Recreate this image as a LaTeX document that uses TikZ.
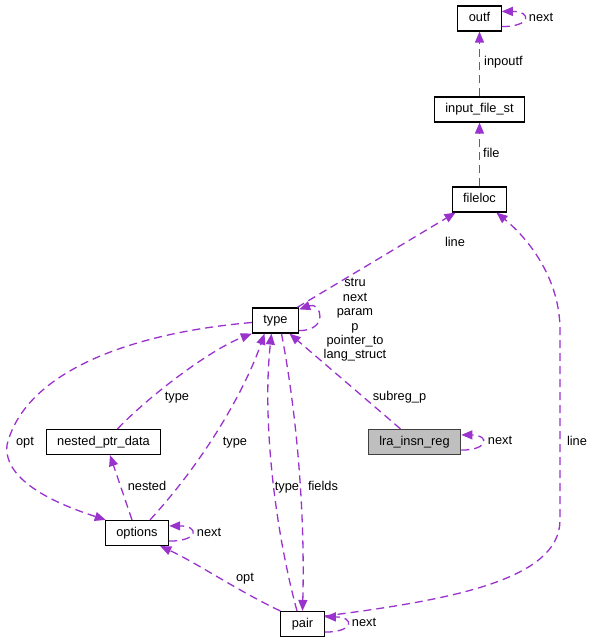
\documentclass[tikz,border=0pt]{standalone}
\usepackage{fontspec}
\setmainfont{Liberation Sans}
\usepackage{xcolor}
\usetikzlibrary{arrows.meta}
\definecolor{edge-purple}{HTML}{9A32CD}
\definecolor{box-gray}{HTML}{BFBFBF}
\tikzset{
    class-box/.style = {draw=black, fill=white, line width=1.2pt, rectangle, minimum height=25pt, inner xsep=11pt, inner ysep=0pt, text height=9.2pt, text depth=2.7pt, font=\fontsize{12.8}{14.4}\selectfont},
    class-box-current/.style = {class-box, draw=black!75, fill=box-gray},
    member-edge/.style = {draw=edge-purple, line width=1.3pt, dash pattern=on 8pt off 5pt, -{Triangle[length=11pt, width=9pt]}},
    member-label/.style = {inner sep=0pt, text height=9.2pt, text depth=2.7pt, font=\fontsize{12.8}{14.4}\selectfont},
    member-label-stack/.style = {inner sep=0pt, align=center, font=\fontsize{12.8}{14.4}\selectfont},
}

\begin{document}
\begin{tikzpicture}[x=1pt, y=-1pt]
\useasboundingbox (0,0) rectangle (593,643);
% classes
\node[class-box] (outf) at (479.5,18.5) {outf};
\node[class-box] (input-file) at (479.5,109.5) {input\_file\_st};
\node[class-box] (fileloc) at (479.5,199.5) {fileloc};
\node[class-box] (type) at (275.5,320.5) {type};
\node[class-box-current] (lra) at (414.5,442) {lra\_insn\_reg};
\node[class-box] (nested) at (103.5,442) {nested\_ptr\_data};
\node[class-box] (options) at (137,533) {options};
\node[class-box] (pair) at (302.5,624) {pair};

% members
\draw[member-edge] ([yshift=5pt]outf.south east) .. controls +(30,0) and +(30,0) .. ([yshift=-6pt]outf.north east);
\node[member-label] (lbl-outf-next) at (541,18.5) {next};
\draw[member-edge] (input-file) -- (outf);
\node[member-label, anchor=west] (lbl-inpoutf) at (484,62) {inpoutf};
\draw[member-edge] (fileloc) -- (input-file);
\node[member-label, anchor=west] (lbl-file) at (483,154) {file};
\draw[member-edge] ([xshift=-2pt]type.north east) -- ([xshift=4pt]fileloc.south west);
\node[member-label] (lbl-type-line) at (455,243) {line};

\draw[member-edge] ([yshift=3pt]type.south east) .. controls +(30,0) and +(22,-8) .. ([yshift=-2pt]type.north east);
\node[member-label-stack] (lbl-type-self) at (355,320) {stru\\next\\param\\p\\pointer\_to\\lang\_struct};

\draw[member-edge] ([xshift=-14pt]lra.north) -- ([xshift=14pt]type.south);
\node[member-label] (lbl-subreg) at (399.5,397) {subreg\_p};
\draw[member-edge] ([yshift=5pt]lra.south east) .. controls +(28,0) and +(28,0) .. ([yshift=-6pt]lra.north east);
\node[member-label] (lbl-lra-next) at (500,441) {next};

\draw[member-edge] ([xshift=14pt]nested.north) .. controls (150,395) and (210,350) .. (type.south west);
\node[member-label] (lbl-nested-type) at (177,397) {type};

\draw[member-edge] ([yshift=-2pt]type.west) .. controls (130,333) and (25,372) .. (7,445) .. controls (3,482) and (60,505) .. ([xshift=1pt]options.north west);
\node[member-label] (lbl-opt-left) at (25,442) {opt};

\draw[member-edge] ([xshift=13pt]options.north) .. controls (205,460) and (245,390) .. ([xshift=-11pt]type.south);
\node[member-label] (lbl-options-type) at (235,442) {type};
\draw[member-edge] ([xshift=-5pt]options.north) -- ([xshift=6.5pt]nested.south);
\node[member-label] (lbl-nested) at (147,487) {nested};
\draw[member-edge] ([yshift=5pt]options.south east) .. controls +(30,0) and +(30,0) .. ([yshift=-6pt]options.north east);
\node[member-label] (lbl-options-next) at (209,533) {next};

\draw[member-edge] ([xshift=-5.5pt]pair.north) .. controls (275,530) and (262,420) .. ([xshift=-4pt]type.south);
\node[member-label] (lbl-pair-type) at (287,487) {type};
\draw[member-edge] ([xshift=6pt]type.south) .. controls (298,420) and (305,520) .. (pair.north);
\node[member-label] (lbl-fields) at (323,487) {fields};

\draw[member-edge] (pair.north west) .. controls (240,592) and (195,562) .. ([xshift=-9pt]options.south east);
\node[member-label] (lbl-pair-opt) at (245,578) {opt};
\draw[member-edge] ([yshift=8pt]pair.east) .. controls (450,600) and (560,580) .. (560,520) -- (560,330) .. controls (560,280) and (530,240) .. ([xshift=-11pt]fileloc.south east);
\node[member-label] (lbl-pair-line) at (577,442) {line};
\draw[member-edge] ([yshift=5pt]pair.south east) .. controls +(30,0) and +(30,0) .. ([yshift=-6pt]pair.north east);
\node[member-label] (lbl-pair-next) at (364,623) {next};
\end{tikzpicture}
\end{document}
